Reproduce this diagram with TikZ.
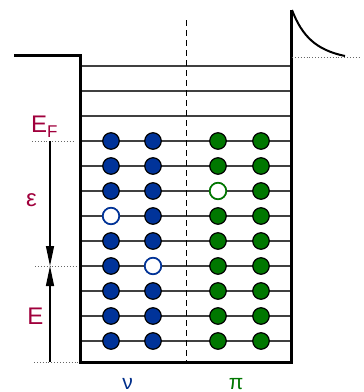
\documentclass[tikz,border=0pt]{standalone}
\usepackage{fontspec}
\setmainfont{Liberation Sans}
\usetikzlibrary{arrows.meta}
\definecolor{lab}{HTML}{A0003C}
\definecolor{nblue}{HTML}{003399}
\definecolor{pgreen}{HTML}{007700}
\begin{document}
\begin{tikzpicture}[x=1pt,y=-1pt,
  wall/.style={line width=3pt},
  level/.style={line width=1.2pt, draw=black!75},
  occ/.style={circle, draw=black, line width=1.2pt, minimum size=16.5pt, inner sep=0pt},
  nfull/.style={occ, fill=nblue},
  pfull/.style={occ, fill=pgreen},
  nhole/.style={occ, draw=nblue, line width=1.7pt, fill=white},
  phole/.style={occ, draw=pgreen, line width=1.7pt, fill=white},
  guide/.style={dotted, line width=0.9pt, draw=black!60},
  lbl/.style={anchor=base, inner sep=0pt, text=lab, font=\fontsize{24}{24}\selectfont},
  enarrow/.style={-{Triangle[length=20pt,width=8pt]}, line width=1.3pt}
]
\useasboundingbox (0,0) rectangle (364,392);
% levels
\foreach \k in {0,...,11}{
  \coordinate (L\k) at (80,66+25*\k);
  \coordinate (R\k) at (291,66+25*\k);
  \draw[level] (L\k) -- (R\k);
}
% dashed separator
\coordinate (dtop) at (186,20);
\coordinate (dbot) at (186,362);
\draw[dashed, dash pattern=on 6pt off 4pt, line width=0.9pt] (dtop) -- (dbot);
% walls
\coordinate (ledge) at (14,55);
\coordinate (wl) at (80,55);
\coordinate (bl) at (80,362);
\coordinate (br) at (291,362);
\coordinate (wr) at (291,10);
\draw[wall] (ledge) -- (wl) -- (bl) -- (br) -- (wr);
% coulomb tail
\coordinate (ct) at (292,10);
\coordinate (ce) at (345,56);
\draw[line width=2pt] (ct) .. controls (302,36) and (316,50) .. (ce);
\coordinate (da) at (292,57);
\coordinate (db) at (360,57);
\draw[guide] (da) -- (db);
% particles
\foreach \k in {3,...,11}{
  \pgfmathsetmacro{\yy}{66+25*\k}
  \node[nfull] (n1-\k) at (111,\yy) {};
  \node[nfull] (n2-\k) at (153,\yy) {};
  \node[pfull] (p1-\k) at (218,\yy) {};
  \node[pfull] (p2-\k) at (261,\yy) {};
}
\node[nhole] (h1) at (111,216) {};
\node[nhole] (h2) at (153,266) {};
\node[phole] (h3) at (218,191) {};
% guides and arrows
\coordinate (gF1) at (32,141);  \coordinate (gF2) at (75,141);
\coordinate (gM1) at (35,266);  \coordinate (gM2) at (78,266);
\coordinate (gB1) at (34,362);  \coordinate (gB2) at (78,362);
\draw[guide] (gF1) -- (gF2);
\draw[guide] (gM1) -- (gM2);
\draw[guide] (gB1) -- (gB2);
\coordinate (aF) at (50,141);
\coordinate (aM) at (50,266);
\coordinate (aB) at (50,362);
\draw[enarrow] (aF) -- (aM);
\draw[enarrow] (aB) -- (aM);
% labels
\node[lbl, anchor=base west] (EF) at (31,132) {E\raisebox{-5pt}{\fontsize{17}{17}\selectfont F}};
\node[lbl] (eps) at (31.5,206) {ε};
\node[lbl] (E) at (35.5,324) {E};
\node[lbl, text=nblue!90!black, font=\fontsize{21}{21}\selectfont] (nu) at (127.5,389) {ν};
\node[lbl, text=pgreen, font=\fontsize{21}{21}\selectfont] (pi) at (236,389) {π};
\end{tikzpicture}
\end{document}
